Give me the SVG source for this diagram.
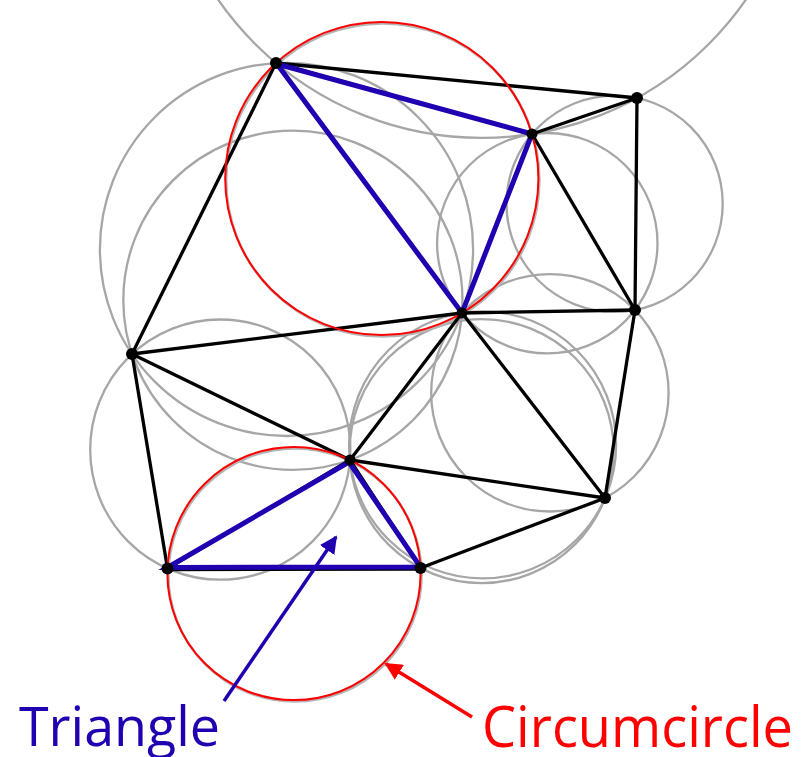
<svg xmlns="http://www.w3.org/2000/svg" width="812" height="757" viewBox="0 0 812 757">
<defs>
<style>
.cc{fill:none;stroke:#a6a6a6;stroke-width:2.3}
.rc{fill:none;stroke:#ff0000;stroke-width:2}
.sh{fill:none;stroke:#b5b5b5;stroke-width:2.5}
.e{stroke:#000;stroke-width:3.3;stroke-linecap:round}
.n{fill:#000}
.lbl{font-family:"Open Sans","Liberation Sans",sans-serif}
</style>
<marker id="ab" viewBox="0 0 10 10" refX="9" refY="5" markerWidth="5" markerHeight="5" markerUnits="strokeWidth" orient="auto">
<path d="M0,0 L10,5 L0,10 z" fill="#2000b0"/>
</marker>
<marker id="ar" viewBox="0 0 10 10" refX="9" refY="5" markerWidth="5" markerHeight="5" markerUnits="strokeWidth" orient="auto">
<path d="M0,0 L10,5 L0,10 z" fill="#ff0000"/>
</marker>
</defs>
<rect width="812" height="757" fill="#fff"/>
<g id="circumcircles">
<circle class="cc" cx="482.0" cy="-182.9" r="320.8"/>
<circle class="cc" cx="286.5" cy="249.4" r="186.6"/>
<circle class="cc" cx="547.3" cy="243.2" r="110.2"/>
<circle class="cc" cx="614.6" cy="203.8" r="108.1"/>
<circle class="cc" cx="292.9" cy="300.3" r="169.6"/>
<circle class="cc" cx="220.3" cy="449.6" r="130.1"/>
<circle class="cc" cx="481.7" cy="451.1" r="132.0"/>
<circle class="cc" cx="482.6" cy="444.9" r="133.5"/>
<circle class="cc" cx="549.9" cy="392.8" r="118.7"/>
<circle class="sh" cx="382.8" cy="180.0" r="156.6"/>
<circle class="sh" cx="295.0" cy="575.0" r="126.6"/>
</g>
<g id="edges">
<line class="e" x1="276" y1="63" x2="637" y2="98"/>
<line class="e" x1="276" y1="63" x2="532" y2="134"/>
<line class="e" x1="532" y1="134" x2="637" y2="98"/>
<line class="e" x1="276" y1="63" x2="462" y2="313"/>
<line class="e" x1="532" y1="134" x2="462" y2="313"/>
<line class="e" x1="276" y1="63" x2="132" y2="354"/>
<line class="e" x1="132" y1="354" x2="462" y2="313"/>
<line class="e" x1="532" y1="134" x2="635" y2="310"/>
<line class="e" x1="637" y1="98" x2="635" y2="310"/>
<line class="e" x1="462" y1="313" x2="635" y2="310"/>
<line class="e" x1="462" y1="313" x2="605" y2="498"/>
<line class="e" x1="635" y1="310" x2="605" y2="498"/>
<line class="e" x1="462" y1="313" x2="350" y2="460"/>
<line class="e" x1="132" y1="354" x2="350" y2="460"/>
<line class="e" x1="350" y1="460" x2="605" y2="498"/>
<line class="e" x1="132" y1="354" x2="167.5" y2="568.5"/>
<line class="e" x1="167.5" y1="568.5" x2="350" y2="460"/>
<line class="e" x1="167.5" y1="569.5" x2="420.5" y2="569"/>
<line class="e" x1="350" y1="460" x2="420.5" y2="568"/>
<line class="e" x1="420.5" y1="568" x2="605" y2="498"/>
</g>
<g id="red-circles">
<circle class="rc" cx="381.8" cy="178.5" r="156.6"/>
<circle class="rc" cx="294.0" cy="573.5" r="126.6"/>
</g>
<g id="triangle-top">
<polygon points="277,64 532,134 462,313" fill="none" stroke="#2000b0" stroke-width="5" stroke-linejoin="miter"/>
</g>
<g id="triangle-bottom">
<polygon points="167.5,567.5 349,462 420.5,567" fill="none" stroke="#2000b0" stroke-width="5" stroke-linejoin="miter"/>
</g>
<g id="nodes">
<circle class="n" id="nA" cx="276" cy="63" r="6"/>
<circle class="n" id="nB" cx="637" cy="98" r="6"/>
<circle class="n" id="nC" cx="532" cy="134" r="5.5"/>
<circle class="n" id="nD" cx="462" cy="313" r="5.5"/>
<circle class="n" id="nE" cx="635" cy="310" r="6"/>
<circle class="n" id="nF" cx="132" cy="354" r="6"/>
<circle class="n" id="nG" cx="350" cy="460" r="5.5"/>
<circle class="n" id="nH" cx="605" cy="498" r="6"/>
<circle class="n" id="nI" cx="167.5" cy="568.5" r="6"/>
<circle class="n" id="nJ" cx="420.5" cy="568" r="6"/>
</g>
<g id="annotations">
<line x1="224" y1="701" x2="336" y2="537" stroke="#2000b0" stroke-width="3.5" marker-end="url(#ab)"/>
<line x1="472" y1="717" x2="386" y2="664" stroke="#ff0000" stroke-width="3.5" marker-end="url(#ar)"/>
<text class="lbl" x="19" y="746" font-size="55" fill="#2000b0" textLength="201" lengthAdjust="spacingAndGlyphs">Triangle</text>
<text class="lbl" x="482" y="747" font-size="57" fill="#ff0000" textLength="311" lengthAdjust="spacingAndGlyphs">Circumcircle</text>
</g>
</svg>
